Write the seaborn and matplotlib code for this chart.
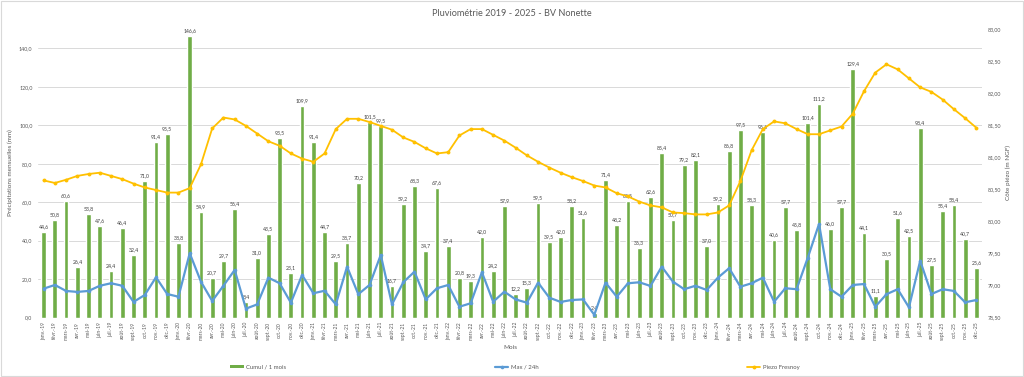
"""Pluviométrie mensuelle et niveau piézométrique - BV Nonette (2019-2025)."""

import matplotlib

matplotlib.use("Agg")

import matplotlib.pyplot as plt
import pandas as pd
import seaborn as sns
from matplotlib.lines import Line2D
from matplotlib.patches import Patch, Rectangle
from matplotlib.ticker import FuncFormatter, MultipleLocator

GREEN = "#70AD47"
BLUE = "#5B9BD5"
YELLOW = "#FFC000"
GRID = "#D9D9D9"
TEXT = "#595959"

MONTH_NAMES = ["janv.", "févr.", "mars", "avr.", "mai", "juin",
               "juil.", "août", "sept.", "oct.", "nov.", "déc."]
YEARS = ["19", "20", "21", "22", "23", "24", "25"]

# Cumul mensuel (mm)
cumul_1_mois = [
    44.6, 50.8, 60.6, 26.4, 53.8, 47.6, 24.4, 46.4, 32.4, 71.0, 91.4, 95.5,
    38.8, 146.6, 54.9, 20.7, 29.7, 56.4, 8.4, 31.0, 43.5, 93.5, 23.1, 109.9,
    91.4, 44.7, 29.5, 38.7, 70.2, 101.5, 99.5, 16.7, 59.2, 68.3, 34.7, 67.6,
    37.4, 20.8, 19.3, 42.0, 24.2, 57.9, 12.2, 15.3, 59.5, 39.5, 42.0, 58.2,
    51.6, 2.4, 71.4, 48.2, 60.5, 36.3, 62.6, 85.4, 50.7, 79.2, 82.1, 37.0,
    59.2, 86.8, 97.5, 58.3, 96.6, 40.6, 57.7, 45.8, 101.4, 111.2, 46.0, 57.7,
    129.4, 44.1, 11.1, 30.5, 51.6, 42.5, 98.4, 27.5, 55.4, 58.4, 40.7, 25.6,
]

# Maximum sur 24h (mm)
max_24h = [
    15.1, 17.0, 13.9, 13.4, 13.9, 16.6, 17.9, 16.6, 8.2, 11.8, 21.0, 12.3,
    10.9, 33.5, 18.7, 8.7, 16.6, 24.8, 4.7, 6.9, 20.8, 17.9, 7.8, 22.2,
    12.7, 14.0, 6.9, 26.5, 12.2, 17.0, 32.6, 6.9, 18.4, 23.9, 9.5, 15.3,
    17.0, 5.7, 7.5, 23.6, 8.3, 13.5, 9.5, 7.8, 18.2, 10.4, 8.2, 9.2,
    9.5, 1.5, 18.2, 10.9, 17.9, 18.4, 16.5, 26.5, 18.7, 14.8, 16.6, 14.4,
    20.8, 25.7, 16.1, 17.9, 20.8, 8.3, 15.3, 14.8, 31.2, 48.7, 14.8, 10.9,
    17.0, 17.5, 5.7, 12.2, 14.8, 5.4, 29.6, 12.3, 14.8, 13.9, 8.0, 9.2,
]

# Cote piézométrique Fresnoy (m NGF)
piezo_fresnoy = [
    80.64, 80.60, 80.65, 80.71, 80.74, 80.76, 80.71, 80.66, 80.59, 80.53, 80.49, 80.45,
    80.45, 80.52, 80.89, 81.45, 81.62, 81.59, 81.49, 81.37, 81.25, 81.18, 81.06, 80.98,
    80.93, 81.06, 81.44, 81.60, 81.60, 81.55, 81.49, 81.43, 81.31, 81.24, 81.14, 81.06,
    81.08, 81.34, 81.44, 81.44, 81.35, 81.26, 81.15, 81.03, 80.93, 80.84, 80.76, 80.69,
    80.63, 80.56, 80.53, 80.44, 80.39, 80.31, 80.25, 80.22, 80.14, 80.13, 80.11, 80.11,
    80.14, 80.25, 80.63, 81.11, 81.44, 81.56, 81.53, 81.44, 81.36, 81.36, 81.42, 81.48,
    81.68, 82.03, 82.32, 82.45, 82.37, 82.23, 82.09, 82.02, 81.90, 81.75, 81.61, 81.46,
]


def fr_number(decimals):
    """Format tick values with a French decimal comma."""
    return FuncFormatter(lambda v, _pos: f"{v:.{decimals}f}".replace(".", ","))


def main():
    months = [f"{m}-{y}" for y in YEARS for m in MONTH_NAMES]
    data = pd.DataFrame({
        "pos": range(len(months)),
        "mois": months,
        "cumul": cumul_1_mois,
        "max24": max_24h,
        "piezo": piezo_fresnoy,
    })

    sns.set_theme(style="white")
    plt.rcParams["font.family"] = ["Lato", "DejaVu Sans"]

    fig = plt.figure(figsize=(10.24, 3.77), dpi=100)
    ax = fig.add_axes([38 / 1024, 1 - 317.7 / 377, 944 / 1024, 288.7 / 377])

    sns.barplot(data=data, x="pos", y="cumul", color=GREEN, saturation=1,
                width=0.42, ax=ax, zorder=2)
    ax.bar_label(ax.containers[0],
                 labels=[f"{v:.1f}".replace(".", ",") for v in cumul_1_mois],
                 padding=2, fontsize=3.7, color="#404040")
    sns.lineplot(data=data, x="pos", y="max24", color=BLUE, linewidth=1.6,
                 marker="o", markersize=2.6, markeredgewidth=0, ax=ax, zorder=3)

    ax2 = ax.twinx()
    sns.lineplot(data=data, x="pos", y="piezo", color=YELLOW, linewidth=1.3,
                 marker="o", markersize=2.8, markeredgewidth=0, ax=ax2)

    ax.set_xlim(-0.5, len(months) - 0.5)
    ax.set_ylim(0, 150)
    ax2.set_ylim(78.5, 83.0)

    ax.yaxis.set_major_locator(MultipleLocator(20))
    ax.yaxis.set_major_formatter(fr_number(1))
    ax2.yaxis.set_major_locator(MultipleLocator(0.5))
    ax2.yaxis.set_major_formatter(fr_number(2))
    ax.set_xticks(range(len(months)))
    ax.set_xticklabels(months, rotation=90)

    ax.grid(axis="y", color=GRID, linewidth=0.7, zorder=0)
    ax.set_axisbelow(True)
    for axis in (ax, ax2):
        for spine in axis.spines.values():
            spine.set_visible(False)
        axis.set_xlabel("")
        axis.set_ylabel("")
    ax.tick_params(axis="y", length=0, pad=4, labelsize=3.8, labelcolor=TEXT)
    ax.tick_params(axis="x", length=0, pad=3, labelsize=3.6, labelcolor=TEXT)
    ax2.tick_params(axis="y", length=0, pad=4, labelsize=3.8, labelcolor=TEXT)

    fig.text(0.5, 1 - 13 / 377, "Pluviométrie 2019 - 2025 - BV Nonette",
             ha="center", va="center", fontsize=6.6, color=TEXT)
    fig.text(10 / 1024, 1 - 173 / 377, "Précipitations mensuelles (mm)",
             rotation=90, ha="center", va="center", fontsize=4.6, color=TEXT)
    fig.text(1008 / 1024, 1 - 173 / 377, "Côte piézo (m NGF)",
             rotation=90, ha="center", va="center", fontsize=4.6, color=TEXT)
    fig.text(510 / 1024, 1 - 347.5 / 377, "Mois",
             ha="center", va="center", fontsize=4.6, color=TEXT)

    handles = [
        Patch(facecolor=GREEN, edgecolor="none"),
        Line2D([], [], color=BLUE, linewidth=1.6, marker="o",
               markersize=2.6, markeredgewidth=0),
        Line2D([], [], color=YELLOW, linewidth=1.3, marker="o",
               markersize=2.8, markeredgewidth=0),
    ]
    fig.legend(handles, ["Cumul / 1 mois", "Max / 24h", "Piezo Fresnoy"],
               loc="center", bbox_to_anchor=(515 / 1024, 1 - 367 / 377),
               ncol=3, frameon=False, fontsize=4.3, columnspacing=35,
               handlelength=2.2, handleheight=0.5, handletextpad=0.4,
               labelcolor=TEXT)

    fig.patches.append(Rectangle((0.001, 0.002), 0.998, 0.996,
                                 transform=fig.transFigure, fill=False,
                                 edgecolor=GRID, linewidth=0.8))

    fig.savefig("out.png", dpi=100)
    plt.close(fig)


if __name__ == "__main__":
    main()
